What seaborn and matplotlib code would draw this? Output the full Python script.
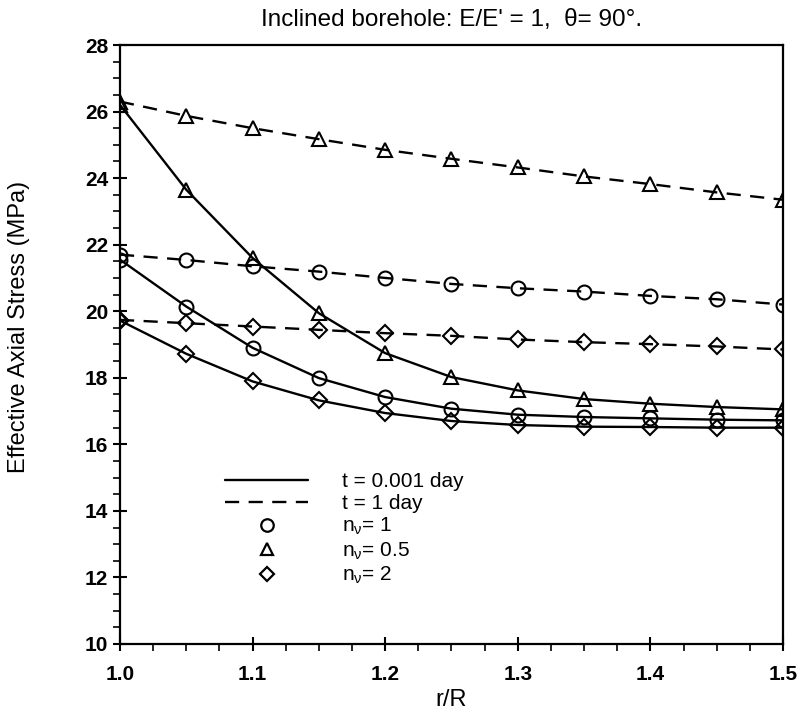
import numpy as np
import pandas as pd
import matplotlib
matplotlib.use('Agg')
import matplotlib.pyplot as plt
import seaborn as sns
from matplotlib.lines import Line2D
from matplotlib.ticker import MultipleLocator

# r/R positions
r_R = [1.0, 1.05, 1.1, 1.15, 1.2, 1.25, 1.3, 1.35, 1.4, 1.45, 1.5]

# t = 0.001 day (solid)
short_n05 = [26.2, 23.65, 21.6, 19.94, 18.74, 18.02, 17.62, 17.36, 17.22, 17.12, 17.05]
short_n1 = [21.55, 20.14, 18.9, 17.99, 17.42, 17.07, 16.89, 16.82, 16.78, 16.74, 16.72]
short_n2 = [19.72, 18.72, 17.89, 17.32, 16.94, 16.7, 16.58, 16.53, 16.52, 16.5, 16.5]

# t = 1 day (dashed)
long_n05 = [26.3, 25.87, 25.5, 25.17, 24.85, 24.58, 24.32, 24.05, 23.82, 23.57, 23.35]
long_n1 = [21.7, 21.54, 21.35, 21.19, 21.0, 20.82, 20.69, 20.59, 20.46, 20.36, 20.2]
long_n2 = [19.74, 19.64, 19.54, 19.44, 19.34, 19.26, 19.15, 19.07, 19.01, 18.94, 18.85]

series = [
    (short_n05, '-', '^'), (short_n1, '-', 'o'), (short_n2, '-', 'D'),
    (long_n05, (0, (6, 4)), '^'), (long_n1, (0, (6, 4)), 'o'), (long_n2, (0, (6, 4)), 'D'),
]

sns.set_style('ticks')
plt.rcParams['font.family'] = ['Liberation Sans', 'DejaVu Sans']
plt.rcParams['mathtext.fontset'] = 'custom'
plt.rcParams['mathtext.rm'] = 'Liberation Sans'
plt.rcParams['mathtext.it'] = 'Liberation Sans'
plt.rcParams['text.color'] = 'black'
plt.rcParams['axes.labelcolor'] = 'black'
plt.rcParams['xtick.color'] = 'black'
plt.rcParams['ytick.color'] = 'black'

fig = plt.figure(figsize=(8.02, 7.2), dpi=100)
ax = fig.add_axes([0.1496, 0.1056, 0.8267, 0.8319])

for vals, ls, mk in series:
    ms = 8 if mk == 'D' else 10
    sns.lineplot(x=r_R, y=vals, ax=ax, color='black', linestyle=ls, linewidth=1.7,
                 marker=mk, markersize=ms, markerfacecolor='none',
                 markeredgecolor='black', markeredgewidth=1.5)

ax.set_xlim(1.0, 1.5)
ax.set_ylim(10, 28)
ax.xaxis.set_major_locator(MultipleLocator(0.1))
ax.xaxis.set_minor_locator(MultipleLocator(0.025))
ax.yaxis.set_major_locator(MultipleLocator(2))
ax.yaxis.set_minor_locator(MultipleLocator(0.5))
ax.xaxis.set_major_formatter(plt.FormatStrFormatter('%.1f'))
ax.tick_params(which='major', direction='inout', length=10, width=1.5, labelsize=15)
ax.tick_params(axis='x', which='major', pad=10)
ax.tick_params(which='minor', direction='out', length=5, width=1.2)
for lbl in ax.get_xticklabels() + ax.get_yticklabels():
    lbl.set_fontweight('bold')
for s in ax.spines.values():
    s.set_linewidth(1.6)
    s.set_color('black')

ax.set_xlabel('r/R', fontsize=17, labelpad=4)
ax.set_ylabel('Effective Axial Stress (MPa)', fontsize=17)
ax.yaxis.set_label_coords(-0.135, 0.53)
ax.set_title("Inclined borehole: E/E' = 1,  \u03b8= 90\u00b0.", fontsize=17.5, pad=14)

handles = [
    Line2D([], [], color='black', linestyle='-', linewidth=1.7),
    Line2D([], [], color='black', linestyle=(0, (6, 4)), linewidth=1.7),
    Line2D([], [], color='black', linestyle='none', marker='o', markersize=9,
           markerfacecolor='none', markeredgewidth=1.6),
    Line2D([], [], color='black', linestyle='none', marker='^', markersize=9,
           markerfacecolor='none', markeredgewidth=1.6),
    Line2D([], [], color='black', linestyle='none', marker='D', markersize=7,
           markerfacecolor='none', markeredgewidth=1.6),
]
labels = ['t = 0.001 day', 't = 1 day', r'n$_\nu$= 1', r'n$_\nu$= 0.5', r'n$_\nu$= 2']
ax.legend(handles, labels, loc='lower left', bbox_to_anchor=(0.13, 0.065),
          frameon=False, fontsize=15, handlelength=4.0, handletextpad=1.6,
          labelspacing=0.15)

fig.savefig('out.png', dpi=100)
